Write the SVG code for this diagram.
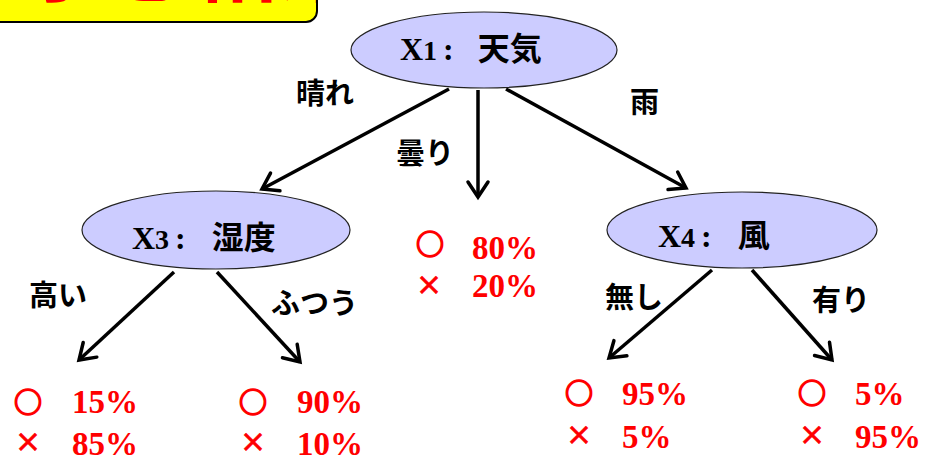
<svg xmlns="http://www.w3.org/2000/svg" width="942" height="461" viewBox="0 0 942 461">
<style>
.node{fill:#CCCCFF;stroke:#222;stroke-width:1.2}
.vx{font-family:"Liberation Serif","Times New Roman",serif;font-weight:bold;fill:#000}
.kj{font-family:"Noto Sans CJK JP",sans-serif;font-weight:bold;fill:#000}
.lbl{font-family:"Noto Sans CJK JP",sans-serif;font-weight:bold;font-size:29px;fill:#000}
.sym{font-family:"Noto Sans CJK JP",sans-serif;font-weight:bold;fill:#FF0000;stroke:#FF0000;stroke-width:1.6;text-anchor:middle}
.crs{font-family:"Noto Sans CJK JP",sans-serif;font-weight:bold;fill:#FF0000;stroke:#FF0000;stroke-width:0.5;text-anchor:middle}
.pct{font-family:"Liberation Serif","Times New Roman",serif;font-weight:bold;font-size:33px;fill:#FF0000}
.edge{stroke:#000;stroke-width:3.5;fill:none;marker-end:url(#arr)}
</style>
<defs>
<marker id="arr" markerUnits="userSpaceOnUse" viewBox="-20 -15 25 30" markerWidth="25" markerHeight="30" refX="0" refY="0" orient="auto" overflow="visible">
<path d="M-15,-10 L0,0 L-15,10" fill="none" stroke="#000" stroke-width="3.5" stroke-linecap="round" stroke-linejoin="miter"/>
</marker>
<clipPath id="titleclip"><rect x="0" y="0" width="316" height="21"/></clipPath>
</defs>
<rect width="942" height="461" fill="#FFFFFF"/>
<g id="title">
<rect x="-12" y="-60" width="329" height="82" rx="11" fill="#FFFF00" stroke="#000" stroke-width="2"/>
<text x="20" y="-5" clip-path="url(#titleclip)" font-family="'Noto Sans CJK JP',sans-serif" font-weight="bold" font-size="86" fill="#FF0000">予想結果</text>
</g>
<g id="connectors">
<line class="edge" x1="449" y1="89" x2="262" y2="189"/>
<line class="edge" x1="478" y1="90" x2="478" y2="197"/>
<line class="edge" x1="506" y1="89" x2="686" y2="188"/>
<line class="edge" x1="174" y1="272" x2="79" y2="360"/>
<line class="edge" x1="217" y1="272" x2="300" y2="362"/>
<line class="edge" x1="712" y1="270" x2="609" y2="358"/>
<line class="edge" x1="752" y1="270" x2="832" y2="360"/>
</g>
<g id="edge-labels">
<text class="lbl" x="296" y="104">晴れ</text>
<text class="lbl" x="396" y="164">曇り</text>
<text class="lbl" x="630" y="113">雨</text>
<text class="lbl" x="29" y="306">高い</text>
<text class="lbl" x="271" y="314">ふつう</text>
<text class="lbl" x="605" y="308">無し</text>
<text class="lbl" x="812" y="311">有り</text>
</g>
<g id="node-x1">
<ellipse class="node" cx="484" cy="50" rx="133" ry="38"/>
<text x="400" y="60"><tspan class="vx" font-size="32">X</tspan><tspan class="vx" font-size="28">1</tspan><tspan class="vx" font-size="32" dx="6">:</tspan><tspan class="kj" font-size="32" dx="24">天気</tspan></text>
</g>
<g id="node-x3">
<ellipse class="node" cx="216" cy="230" rx="134" ry="39"/>
<text x="132" y="249"><tspan class="vx" font-size="32">X</tspan><tspan class="vx" font-size="28">3</tspan><tspan class="vx" font-size="32" dx="6">:</tspan><tspan class="kj" font-size="32" dx="26">湿度</tspan></text>
</g>
<g id="node-x4">
<ellipse class="node" cx="742" cy="230" rx="135" ry="38"/>
<text x="658" y="247"><tspan class="vx" font-size="32">X</tspan><tspan class="vx" font-size="28">4</tspan><tspan class="vx" font-size="32" dx="6">:</tspan><tspan class="kj" font-size="32" dx="26">風</tspan></text>
</g>
<g id="leaf-cloudy">
<text class="sym" x="430" y="255" font-size="28">○</text>
<text class="pct" x="472" y="259">80%</text>
<text class="crs" x="429" y="295" font-size="27">×</text>
<text class="pct" x="472" y="297">20%</text>
</g>
<g id="leaf-high">
<text class="sym" x="28" y="413" font-size="28">○</text>
<text class="pct" x="72" y="413">15%</text>
<text class="crs" x="28" y="452" font-size="27">×</text>
<text class="pct" x="72" y="455">85%</text>
</g>
<g id="leaf-normal">
<text class="sym" x="253" y="413" font-size="28">○</text>
<text class="pct" x="297" y="413">90%</text>
<text class="crs" x="253" y="452" font-size="27">×</text>
<text class="pct" x="297" y="455">10%</text>
</g>
<g id="leaf-nowind">
<text class="sym" x="579" y="404" font-size="28">○</text>
<text class="pct" x="622" y="405">95%</text>
<text class="crs" x="579" y="445" font-size="27">×</text>
<text class="pct" x="622" y="448">5%</text>
</g>
<g id="leaf-wind">
<text class="sym" x="812" y="404" font-size="28">○</text>
<text class="pct" x="855" y="405">5%</text>
<text class="crs" x="812" y="445" font-size="27">×</text>
<text class="pct" x="855" y="448">95%</text>
</g>
</svg>
